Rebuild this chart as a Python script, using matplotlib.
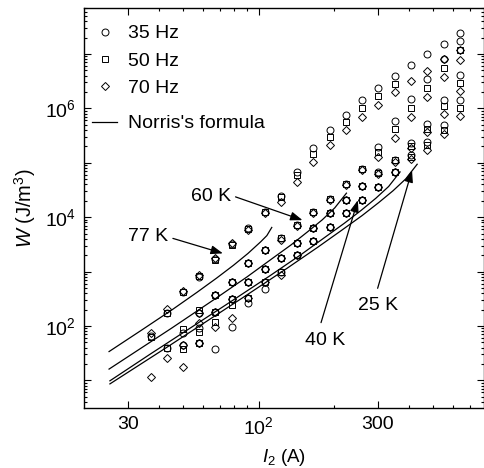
import numpy as np
import matplotlib
matplotlib.use('Agg')
import matplotlib.pyplot as plt
from matplotlib.lines import Line2D
from matplotlib.ticker import FixedLocator, FixedFormatter, NullFormatter

plt.rcParams['font.family'] = ['Liberation Sans', 'DejaVu Sans']
plt.rcParams['mathtext.fontset'] = 'custom'
plt.rcParams['mathtext.rm'] = 'Liberation Sans'
plt.rcParams['mathtext.it'] = 'Liberation Sans:italic'
plt.rcParams['font.size'] = 14

nan = np.nan

# transport current amplitude (A), same steps for every run
current = [37, 43, 50, 58, 67, 78, 91, 106, 123, 143,
           166, 193, 224, 260, 302, 351, 408, 474, 551, 640]

# measured loss W (J/m^3) per temperature and frequency
w77_35 = [65, 173, 412, 810, 1.70e3, 3.20e3, 6.28e3, 1.26e4, 2.48e4, 6.78e4,
          1.85e5, 4.03e5, 7.66e5, 1.40e6, 2.33e6, 3.87e6, 6.34e6, 1.01e7, 1.54e7, 2.41e7]
w77_50 = [63, 173, 412, 827, 1.63e3, 3.13e3, 6.03e3, 1.24e4, 2.33e4, 5.90e4,
          1.46e5, 3.00e5, 5.61e5, 1.00e6, 1.66e6, 2.76e6, nan, nan, nan, nan]
w77_70 = [74, 205, 439, 863, 1.77e3, 3.33e3, 5.90e3, 1.18e4, 1.91e4, 4.44e4,
          1.02e5, 2.14e5, 3.95e5, 6.92e5, 1.17e6, 1.97e6, 3.13e6, 4.88e6, 7.93e6, 1.16e7]

w60_35 = [nan, 39, 74, 173, 363, 650, 1.41e3, 2.48e3, 4.07e3, 7.13e3,
          1.25e4, 2.20e4, 4.15e4, 7.83e4, 1.95e5, 5.77e5, 1.51e6, 3.51e6, 7.93e6, 1.70e7]
w60_50 = [nan, 39, 87, 197, 363, 650, 1.41e3, 2.48e3, 4.07e3, 7.13e3,
          1.25e4, 2.20e4, 4.15e4, 7.83e4, 1.58e5, 4.12e5, 1.03e6, 2.40e6, 5.49e6, 1.16e7]
w60_70 = [11.7, nan, nan, 173, 363, 650, 1.41e3, 2.48e3, 3.78e3, 6.84e3,
          1.18e4, 2.05e4, 3.87e4, 7.29e4, 1.28e5, 2.85e5, 6.92e5, 1.61e6, 3.75e6, 7.83e6]

w40_35 = [nan, nan, 45, 91, 178, 313, 634, 1.10e3, 1.75e3, 3.29e3,
          6.20e3, 1.18e4, 2.05e4, 3.71e4, 6.69e4, 1.11e5, 2.28e5, 5.24e5, 1.44e6, 4.03e6]
w40_50 = [nan, nan, 38, 79, 178, 313, 634, 1.10e3, 1.75e3, 3.29e3,
          6.20e3, 1.18e4, 2.05e4, 3.71e4, 6.42e4, 1.11e5, 2.05e5, 4.24e5, 1.09e6, 2.91e6]
w40_70 = [nan, 25.6, 45, 114, 178, 313, 634, 1.10e3, 1.75e3, 3.29e3,
          6.20e3, 1.18e4, 2.05e4, 3.71e4, 6.15e4, 1.02e5, 1.85e5, 3.67e5, 7.76e5, 2.08e6]

w25_35 = [nan, nan, nan, 48, 38, 97, 261, 477, 992, 2.01e3,
          3.67e3, 6.64e3, 1.18e4, 2.05e4, 3.55e4, 6.69e4, 1.37e5, 2.41e5, 4.88e5, 1.44e6]
w25_50 = [nan, nan, nan, 48, 120, 243, 322, 634, 992, 2.01e3,
          3.67e3, 6.64e3, 1.18e4, 2.05e4, 3.55e4, 6.69e4, 1.26e5, 2.10e5, 4.07e5, 1.03e6]
w25_70 = [nan, nan, 17.7, 48, 97, 142, 322, 634, 863, 2.01e3,
          3.67e3, 6.64e3, 1.18e4, 2.05e4, 3.55e4, 6.69e4, 1.16e5, 1.75e5, 3.43e5, 7.22e5]

# Norris's formula curves
n77_i = [25.2, 34.0, 45.4, 56.7, 68.0, 79.4, 90.7, 102, 108, 113]
n77_w = [33.8, 83.7, 203, 415, 760, 1305, 2150, 3520, 4580, 6470]
n60_i = [25.2, 45.0, 67.5, 90.0, 112, 135, 157, 180, 202, 225]
n60_w = [16.1, 91.9, 322, 799, 1660, 3090, 5350, 8925, 14800, 27600]
n40_i = [25.4, 36.9, 73.8, 111, 148, 184, 221, 258, 295, 332, 369]
n40_w = [9.8, 30.5, 242, 834, 2050, 4224, 7762, 13390, 22230, 36590, 67800]
n25_i = [25.4, 43.3, 86.5, 130, 173, 216, 260, 303, 346, 389, 432]
n25_w = [8.6, 41.5, 331, 1145, 2815, 5800, 10700, 18530, 30640, 50650, 93900]

fig = plt.figure(figsize=(4.85, 4.68), dpi=100)
ax = fig.add_axes([0.1732, 0.1282, 0.8247, 0.8547])

mk = dict(ls='none', mfc='none', mec='k', mew=0.7)
for w35, w50, w70 in [(w77_35, w77_50, w77_70), (w60_35, w60_50, w60_70),
                      (w40_35, w40_50, w40_70), (w25_35, w25_50, w25_70)]:
    ax.plot(current, w35, marker='o', ms=5, **mk)
    ax.plot(current, w50, marker='s', ms=4.3, **mk)
    ax.plot(current, w70, marker='D', ms=3.6, **mk)

for ni, nw in [(n77_i, n77_w), (n60_i, n60_w), (n40_i, n40_w), (n25_i, n25_w)]:
    ax.plot(ni, nw, 'k-', lw=0.9)

# temperature labels with arrows
arr = dict(arrowstyle='-|>,head_length=0.6,head_width=0.22', color='k',
           lw=0.9, shrinkA=0, shrinkB=0, mutation_scale=12)
ax.annotate('', xy=(72, 2160), xytext=(45.4, 4070), arrowprops=arr)
ax.text(36, 4480, '77 K', ha='center', va='center')
ax.annotate('', xy=(150, 8810), xytext=(80.9, 23600), arrowprops=arr)
ax.text(64.3, 24300, '60 K', ha='center', va='center')
ax.annotate('', xy=(250, 20500), xytext=(178, 115), arrowprops=arr)
ax.text(184, 55, '40 K', ha='center', va='center')
ax.annotate('', xy=(412, 72900), xytext=(300, 492), arrowprops=arr)
ax.text(301, 238, '25 K', ha='center', va='center')

ax.set_xscale('log')
ax.set_yscale('log')
ax.set_xlim(20, 800)
ax.set_ylim(3.1, 7e7)

ax.xaxis.set_major_locator(FixedLocator([30, 100, 300]))
ax.xaxis.set_major_formatter(FixedFormatter(['30', r'$10^2$', '300']))
ax.xaxis.set_minor_locator(FixedLocator([40, 50, 60, 70, 80, 90, 200, 400, 500, 600, 700]))
ax.xaxis.set_minor_formatter(NullFormatter())
ax.yaxis.set_major_locator(FixedLocator([1e1, 1e2, 1e3, 1e4, 1e5, 1e6, 1e7]))
ax.yaxis.set_major_formatter(FixedFormatter(['', r'$10^2$', '', r'$10^4$', '', r'$10^6$', '']))
ax.yaxis.set_minor_locator(FixedLocator([m * 10.0 ** e for e in range(0, 8) for m in range(2, 10)]))
ax.yaxis.set_minor_formatter(NullFormatter())
ax.tick_params(which='both', direction='in', top=True, right=True, width=0.8)
ax.tick_params(which='major', length=5, pad=6)
ax.tick_params(which='minor', length=2.5)
for s in ax.spines.values():
    s.set_linewidth(1.0)

ax.set_xlabel(r'$I_2$ (A)', fontsize=13.5)
ax.set_ylabel(r'$W$ (J/m$^3$)', fontsize=14.5)
ax.xaxis.set_label_coords(0.5, -0.0975)
ax.yaxis.set_label_coords(-0.115, 0.5)

# legend: markers, then the formula line a little further down
h_mk = [Line2D([], [], marker='o', ms=5, **mk),
        Line2D([], [], marker='s', ms=4.3, **mk),
        Line2D([], [], marker='D', ms=3.6, **mk)]
leg1 = ax.legend(h_mk, ['35 Hz', '50 Hz', '70 Hz'], loc='upper left',
                 bbox_to_anchor=(0.02, 0.958), frameon=False, handlelength=1.3,
                 handletextpad=0.55, labelspacing=0.5, borderpad=0, borderaxespad=0)
ax.add_artist(leg1)
ax.legend([Line2D([], [], color='k', lw=0.9)], ["Norris's formula"], loc='upper left',
          bbox_to_anchor=(0.02, 0.733), frameon=False, handlelength=1.3,
          handletextpad=0.55, borderpad=0, borderaxespad=0)

fig.savefig('out.png', dpi=100)
